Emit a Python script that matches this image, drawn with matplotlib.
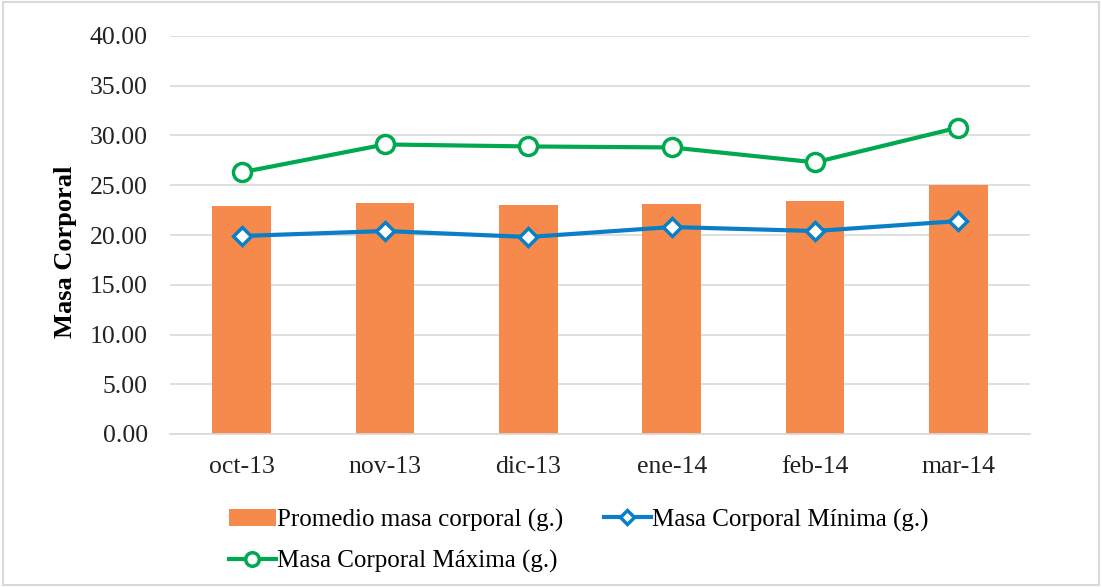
import matplotlib.pyplot as plt
from matplotlib.patches import Rectangle

meses = ['oct-13', 'nov-13', 'dic-13', 'ene-14', 'feb-14', 'mar-14']
promedio = [22.9, 23.2, 23.0, 23.1, 23.4, 25.0]
minima = [19.9, 20.4, 19.8, 20.8, 20.4, 21.4]
maxima = [26.3, 29.1, 28.9, 28.8, 27.3, 30.8]

plt.rcParams['font.family'] = ['Liberation Serif', 'DejaVu Serif']

fig = plt.figure(figsize=(11.02, 5.87), dpi=100)
ax = fig.add_axes([170 / 1102, 1 - 434 / 587, 860 / 1102, 398 / 587])

x = list(range(len(meses)))
barras = ax.bar(x, promedio, width=0.41, color='#F58A4C', zorder=2,
                label='Promedio masa corporal (g.)')
lmin, = ax.plot(x, minima, color='#0A7FC6', lw=3, marker='D', ms=9,
                mfc='white', mec='#0A7FC6', mew=2.5, zorder=3,
                label='Masa Corporal Mínima (g.)')
lmax, = ax.plot(x, maxima, color='#00A84F', lw=3, marker='o', ms=13,
                mfc='white', mec='#00A84F', mew=2.5, zorder=3,
                label='Masa Corporal Máxima (g.)')

ax.set_xlim(-0.5, len(meses) - 0.5)
ax.set_ylim(0, 40)
ax.set_yticks(range(0, 41, 5))
ax.set_yticklabels([f'{v:.2f}' for v in range(0, 41, 5)])
ax.set_xticks(x)
ax.set_xticklabels(meses)
ax.grid(axis='y', color='#D9D9D9', lw=1.2, zorder=0)
for s in ['top', 'right', 'left']:
    ax.spines[s].set_visible(False)
ax.spines['bottom'].set_color('#D9D9D9')
ax.spines['bottom'].set_linewidth(1.2)
ax.tick_params(axis='both', length=0, labelsize=18.5, colors='#222222')
ax.tick_params(axis='y', pad=16)
ax.tick_params(axis='x', pad=16)
ax.set_ylabel('Masa Corporal', fontsize=19, fontweight='bold')
ax.yaxis.set_label_coords(-0.108, 0.457)

fig.legend(handles=[barras, lmax, lmin], ncol=2, frameon=False,
           loc='upper left', bbox_to_anchor=(206 / 1102, 1 - 486 / 587),
           fontsize=18, handlelength=1.9, handletextpad=0.05,
           columnspacing=1.6, labelspacing=0.75, markerscale=0.75)

fig.patches.append(Rectangle((0.003, 0.003), 0.994, 0.994, transform=fig.transFigure,
                             fill=False, ec='#D9D9D9', lw=1.5))

fig.savefig('out.png', dpi=100)
